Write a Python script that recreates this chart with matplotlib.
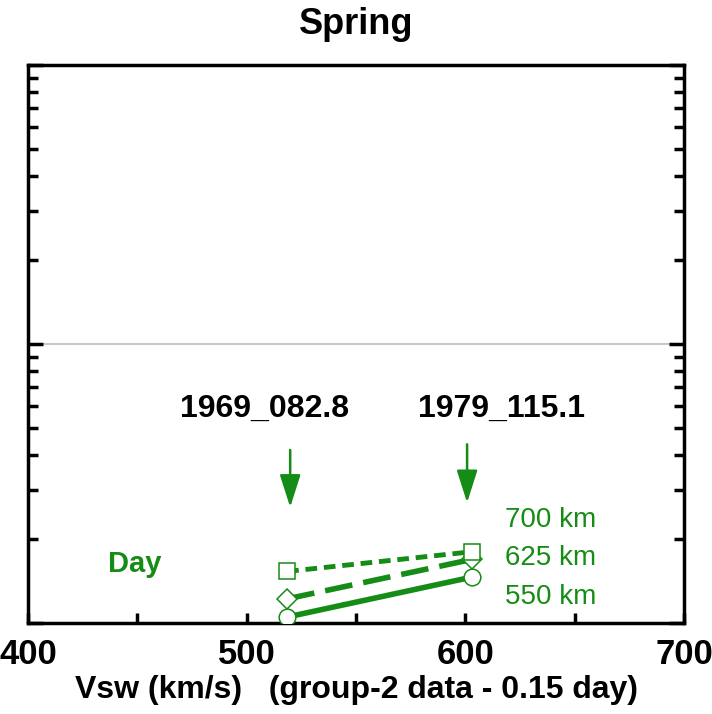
import matplotlib
matplotlib.use("Agg")
import matplotlib.pyplot as plt
from matplotlib.ticker import LogLocator, NullFormatter, MultipleLocator, FixedLocator

# данi
vsw = [518.5, 603.0]
h550 = [1.05, 1.46]
h625 = [1.22, 1.69]
h700 = [1.53, 1.80]
alt_labels = ["700 km", "625 km", "550 km"]
events = ["1969_082.8", "1979_115.1"]

GREEN = "#158c15"
SANS = ["Liberation Sans", "DejaVu Sans"]

fig = plt.figure(figsize=(7.12, 7.14), dpi=100)
ax = fig.add_axes([0.0393, 0.1275, 0.9214, 0.7815])

ax.plot(vsw, h550, "-", color=GREEN, lw=4, marker="o", ms=12, mfc="white", mec=GREEN, mew=1.1, zorder=3)
ax.plot(vsw, h625, "--", color=GREEN, lw=4, dashes=(5, 2), marker="D", ms=10, mfc="white", mec=GREEN, mew=1.1, zorder=3)
ax.plot(vsw, h700, "--", color=GREEN, lw=3.5, dashes=(2.4, 1.4), marker="s", ms=12, mfc="white", mec=GREEN, mew=1.1, zorder=3)

ax.axhline(10, color="#c8c8c8", lw=1.5, zorder=1)

ax.set_yscale("log")
ax.set_xlim(400, 700)
ax.set_ylim(1, 100)

ax.xaxis.set_major_locator(FixedLocator([400, 500, 600, 700]))
ax.xaxis.set_minor_locator(MultipleLocator(50))
ax.yaxis.set_major_locator(LogLocator(base=10))
ax.yaxis.set_minor_locator(LogLocator(base=10, subs=range(2, 10)))
ax.yaxis.set_major_formatter(NullFormatter())
ax.yaxis.set_minor_formatter(NullFormatter())

ax.tick_params(axis="x", which="both", direction="in", length=7, width=2.5, top=False,
               labelsize=25, pad=11)
ax.tick_params(axis="y", which="major", direction="in", length=11, width=2.5, left=True, right=True)
ax.tick_params(axis="y", which="minor", direction="in", length=7, width=2.5, left=True, right=True)
for lab in ax.get_xticklabels():
    lab.set_fontfamily(SANS)
    lab.set_fontweight("bold")

for s in ax.spines.values():
    s.set_linewidth(2.5)

ax.set_xlabel("Vsw (km/s)   (group-2 data - 0.15 day)", fontsize=23, fontweight="bold",
              family=SANS, labelpad=3)
fig.suptitle("Spring", fontsize=26, fontweight="bold", family=SANS, y=0.99)

# стрiлки з подiями
ax.text(508.4, 5.84, events[0], ha="center", va="center", fontsize=23, fontweight="bold", family=SANS)
ax.text(616.5, 5.84, events[1], ha="center", va="center", fontsize=23, fontweight="bold", family=SANS)
arrow = dict(arrowstyle="-|>,head_length=1.0,head_width=0.32", mutation_scale=20,
             color=GREEN, lw=1.8, shrinkA=0, shrinkB=0)
ax.annotate("", xy=(519.9, 2.60), xytext=(519.9, 4.17), arrowprops=arrow)
ax.annotate("", xy=(600.8, 2.70), xytext=(600.8, 4.37), arrowprops=arrow)

for lab, y in zip(alt_labels, [2.33, 1.71, 1.24]):
    ax.text(618.1, y, lab, ha="left", va="center", fontsize=20, color=GREEN, family=SANS)
ax.text(449.0, 1.63, "Day", ha="center", va="center", fontsize=21, fontweight="bold", color=GREEN,
        family=SANS)

fig.savefig("out.png", dpi=100)
